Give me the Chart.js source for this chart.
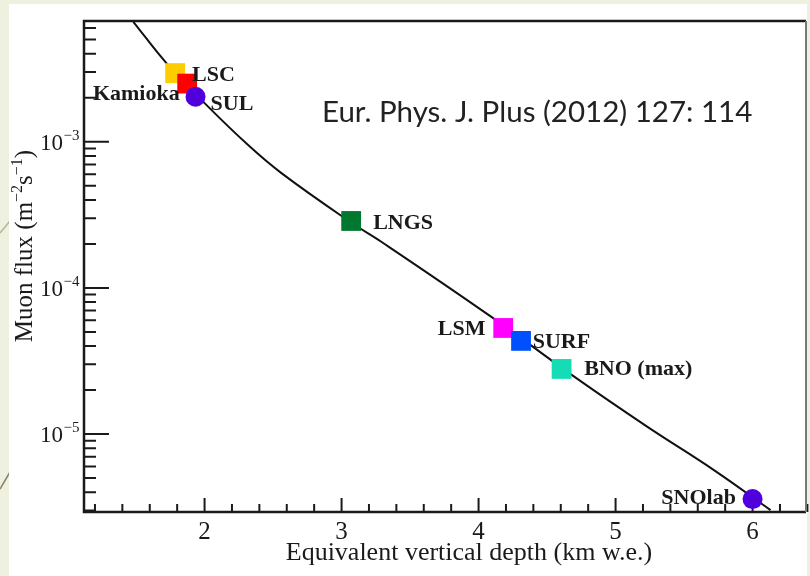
<!DOCTYPE html>
<html>
<head>
<meta charset="utf-8">
<script src="https://cdn.jsdelivr.net/npm/chart.js@4.4.0/dist/chart.umd.min.js"></script>
<style>
  body { margin: 0; background: #eef1e0; width: 810px; height: 576px; overflow: hidden; position: relative; }
  #panel { position: absolute; left: 9px; top: 4px; width: 798px; height: 572px; background: #fff; }
  #deco { position: absolute; left: 0; top: 0; }
  #chart { position: absolute; left: 0; top: 0; }
</style>
</head>
<body>
<svg id="deco" width="10" height="576">
  <line x1="0" y1="233" x2="10" y2="221" stroke="#b9b598" stroke-width="1.5"/>
  <line x1="0" y1="489" x2="10" y2="472" stroke="#8c8262" stroke-width="1.5"/>
</svg>
<div id="panel"></div>
<canvas id="chart" width="810" height="576"></canvas>
<script>
// measured sites
const siteNames = ['LSC', 'Kamioka', 'SUL', 'LNGS', 'LSM', 'SURF', 'BNO (max)', 'SNOlab'];
const siteDepth = [1.785, 1.873, 1.934, 3.07, 4.18, 4.31, 4.606, 6.0];
const siteFlux = [2.95e-3, 2.5e-3, 2.03e-3, 2.87e-4, 5.32e-5, 4.34e-5, 2.79e-5, 3.59e-6];

// depth-intensity curve
const curveDepth = [1.48, 1.723, 2.002, 2.318, 2.561, 3.07, 3.29, 4.091, 4.698, 5.233, 5.718, 6.131];
const curveFlux = [6.62e-3, 3.44e-3, 1.83e-3, 9.49e-4, 6.1e-4, 2.8e-4, 2.07e-4, 6.36e-5, 2.47e-5, 1.12e-5, 5.67e-6, 3.02e-6];

// ticks
const xMajorTicks = [2, 3, 4, 5, 6];
const xMinorTicks = [1.2, 1.4, 1.6, 1.8, 2.2, 2.4, 2.6, 2.8, 3.2, 3.4, 3.6, 3.8,
  4.2, 4.4, 4.6, 4.8, 5.2, 5.4, 5.6, 5.8, 6.2, 6.4];
const yMajorTicks = [1e-5, 1e-4, 1e-3];
const yMajorLabels = ['\u22125', '\u22124', '\u22123'];
const yMinorTicks = [3e-6, 4e-6, 5e-6, 6e-6, 7e-6, 8e-6, 9e-6,
  2e-5, 3e-5, 4e-5, 5e-5, 6e-5, 7e-5, 8e-5, 9e-5,
  2e-4, 3e-4, 4e-4, 5e-4, 6e-4, 7e-4, 8e-4, 9e-4,
  2e-3, 3e-3, 4e-3, 5e-3, 6e-3];

// marker styles
const siteColors = ['#ffcc00', '#ff0000', '#5000dc', '#00782f', '#ff00ff', '#0050ff', '#14dcb4', '#5000dc'];
const siteShapes = ['rect', 'rect', 'circle', 'rect', 'rect', 'rect', 'rect', 'circle'];
const siteRadius = [14, 14, 10, 14, 14, 14, 14, 10];

// label placement relative to the marker
const labelDx = [17, -7.5, 15, 22, -17.7, 11.7, 22.6, -16.7];
const labelDy = [0, 8.5, 6, 1, 0, 0, -1, -3];
const labelAlign = ['left', 'right', 'left', 'left', 'right', 'left', 'left', 'right'];

const serif = '"Liberation Serif", "Times New Roman", serif';
const ink = '#1a1a1a';

const framePlugin = {
    id: 'frame',
    beforeDatasetsDraw(chart) {
        const { ctx, chartArea: a, scales: { x, y } } = chart;
        ctx.save();
        ctx.strokeStyle = ink;
        ctx.lineWidth = 2;
        ctx.beginPath();
        xMajorTicks.concat(xMinorTicks).forEach(v => {
            const px = x.getPixelForValue(v);
            const len = xMajorTicks.includes(v) ? 14 : 8;
            ctx.moveTo(px, a.bottom);
            ctx.lineTo(px, a.bottom - len);
        });
        yMajorTicks.concat(yMinorTicks).forEach(v => {
            const py = y.getPixelForValue(v);
            const len = yMajorTicks.includes(v) ? 25 : 12;
            ctx.moveTo(a.left, py);
            ctx.lineTo(a.left + len, py);
        });
        ctx.stroke();

        // box
        ctx.lineWidth = 2.5;
        ctx.beginPath();
        ctx.moveTo(a.right, a.top);
        ctx.lineTo(a.left, a.top);
        ctx.lineTo(a.left, a.bottom);
        ctx.lineTo(a.right, a.bottom);
        ctx.stroke();
        ctx.strokeStyle = '#777';
        ctx.lineWidth = 2;
        ctx.beginPath();
        ctx.moveTo(a.right, a.top);
        ctx.lineTo(a.right, a.bottom);
        ctx.stroke();
        ctx.restore();
    },
    afterDatasetsDraw(chart) {
        const { ctx, scales: { x, y } } = chart;
        ctx.save();
        ctx.fillStyle = ink;
        ctx.textBaseline = 'alphabetic';

        // y tick labels 10^n
        yMajorTicks.forEach((v, i) => {
            const py = y.getPixelForValue(v);
            ctx.font = '23px ' + serif;
            ctx.textAlign = 'left';
            ctx.fillText('10', 40, py + 8);
            const w = ctx.measureText('10').width;
            ctx.font = '15px ' + serif;
            ctx.fillText(yMajorLabels[i], 40 + w + 0.5, py - 2);
        });

        // y axis title with superscripts
        const parts = [['Muon flux (m', 0], ['\u22122', 1], ['s', 0], ['\u22121', 1], [')', 0]];
        const fontOf = p => (p[1] ? '16px ' : '25px ') + serif;
        let total = 0;
        parts.forEach(p => { ctx.font = fontOf(p); total += ctx.measureText(p[0]).width; });
        ctx.save();
        ctx.translate(32, 246);
        ctx.rotate(-Math.PI / 2);
        let u = -total / 2;
        parts.forEach(p => {
            ctx.font = fontOf(p);
            ctx.fillText(p[0], u, p[1] ? -10 : 0);
            u += ctx.measureText(p[0]).width;
        });
        ctx.restore();

        // x axis title
        ctx.font = '26px ' + serif;
        ctx.textAlign = 'center';
        ctx.fillText('Equivalent vertical depth (km w.e.)', 469, 560);

        // site labels
        ctx.font = 'bold 22px ' + serif;
        siteNames.forEach((name, i) => {
            const px = x.getPixelForValue(siteDepth[i]) + labelDx[i];
            const py = y.getPixelForValue(siteFlux[i]) + labelDy[i];
            ctx.textAlign = labelAlign[i];
            ctx.fillText(name, px, py + 7.5);
        });

        // reference note
        const note = 'Eur. Phys. J. Plus (2012) 127: 114';
        ctx.font = '22px Lato, "Noto Sans", sans-serif';
        const size = 22 * 431 / ctx.measureText(note).width;
        ctx.font = size.toFixed(1) + 'px Lato, "Noto Sans", sans-serif';
        ctx.textAlign = 'left';
        ctx.fillStyle = '#222';
        ctx.fillText(note, 322, 122);
        ctx.restore();
    }
};

const ctx = document.getElementById('chart').getContext('2d');
new Chart(ctx, {
    type: 'scatter',
    data: {
        datasets: [{
            label: 'Sites',
            data: siteDepth.map((d, i) => ({ x: d, y: siteFlux[i] })),
            pointStyle: siteShapes,
            pointRadius: siteRadius,
            pointBackgroundColor: siteColors,
            pointBorderWidth: 0,
            pointHoverRadius: siteRadius
        }, {
            label: 'Curve',
            type: 'line',
            data: curveDepth.map((d, i) => ({ x: d, y: curveFlux[i] })),
            borderColor: '#111',
            borderWidth: 2,
            pointRadius: 0,
            tension: 0.4,
            fill: false
        }]
    },
    options: {
        responsive: false,
        devicePixelRatio: 1,
        animation: false,
        layout: { autoPadding: false, padding: { top: 21, right: 4, left: 0, bottom: 0 } },
        plugins: {
            legend: { display: false },
            tooltip: { enabled: false }
        },
        scales: {
            x: {
                type: 'linear',
                min: 1.12,
                max: 6.39,
                grid: { display: false, drawTicks: false },
                border: { display: false },
                afterBuildTicks: scale => {
                    scale.ticks = xMajorTicks.concat(xMinorTicks)
                        .sort((a, b) => a - b)
                        .map(v => ({ value: v }));
                },
                afterFit: scale => {
                    scale.height = 64;
                    scale.paddingLeft = 0;
                    scale.paddingRight = 0;
                },
                ticks: {
                    autoSkip: false,
                    maxRotation: 0,
                    padding: 5,
                    color: ink,
                    font: { family: serif, size: 25 },
                    callback: v => xMajorTicks.includes(v) ? String(v) : ''
                }
            },
            y: {
                type: 'logarithmic',
                min: 2.93e-6,
                max: 6.7e-3,
                grid: { display: false, drawTicks: false },
                border: { display: false },
                ticks: { display: false },
                afterBuildTicks: scale => {
                    scale.ticks = yMajorTicks.concat(yMinorTicks)
                        .sort((a, b) => a - b)
                        .map(v => ({ value: v }));
                },
                afterFit: scale => {
                    scale.width = 84;
                    scale.paddingTop = 0;
                    scale.paddingBottom = 0;
                }
            }
        }
    },
    plugins: [framePlugin]
});
</script>
</body>
</html>
